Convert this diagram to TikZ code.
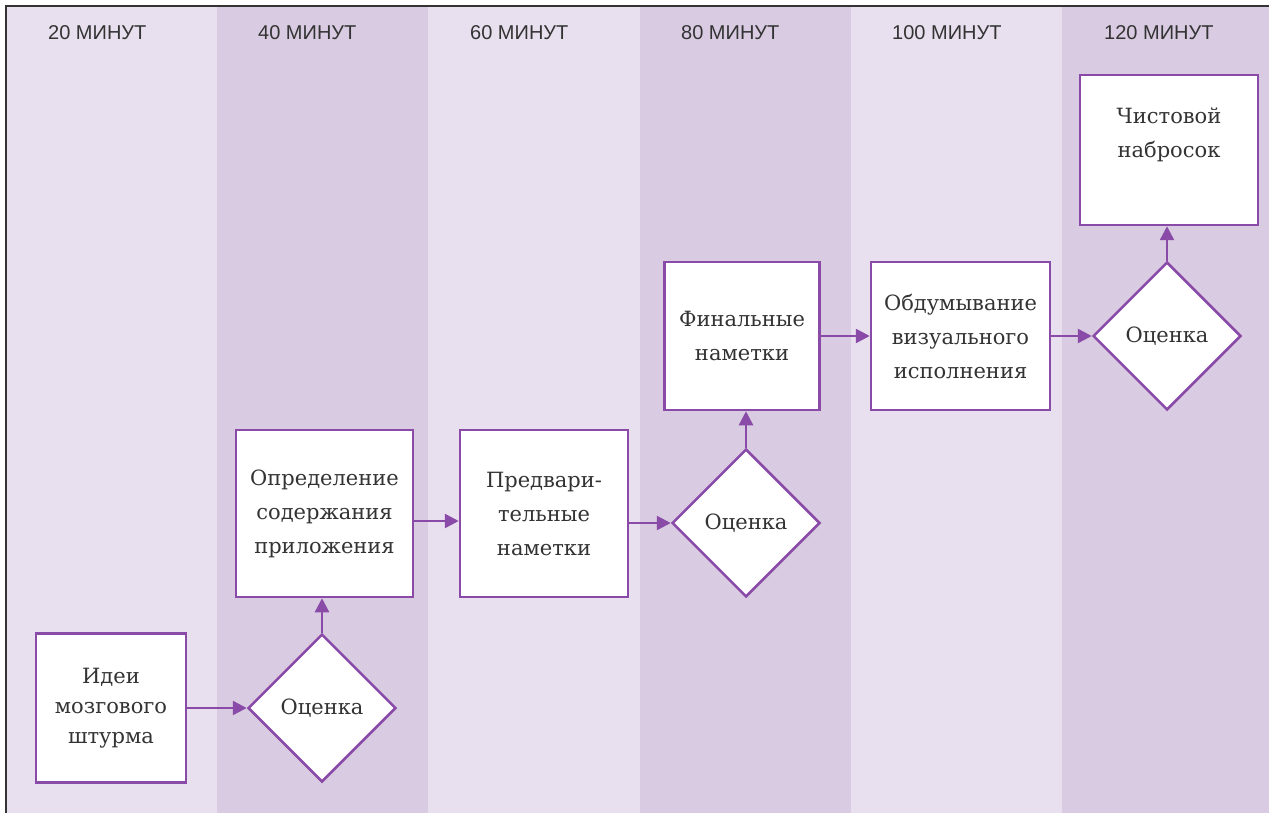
\documentclass[tikz,border=0pt]{standalone}
\usepackage{fontspec}
\setmainfont{DejaVu Serif}
\newfontfamily\hdrfont{Liberation Sans}
\usetikzlibrary{shapes.geometric,arrows.meta,calc}
\definecolor{bglight}{HTML}{E8E0EE}
\definecolor{bgdark}{HTML}{D9CBE2}
\definecolor{vio}{HTML}{8A4BA8}
\definecolor{txt}{HTML}{333333}
\begin{document}
\begin{tikzpicture}[x=1pt,y=-1pt,
  box/.style={draw=vio,line width=2.5pt,fill=white,rectangle,inner sep=0pt,align=center,
    text=txt,font=\fontsize{21}{34}\selectfont},
  dia/.style={draw=vio,line width=2.5pt,fill=white,diamond,inner sep=0pt,minimum size=148pt,
    text=txt,font=\fontsize{21}{34}\selectfont},
  hdr/.style={anchor=west,text=txt,font=\hdrfont\fontsize{20}{22}\selectfont,inner sep=0pt},
  arr/.style={draw=vio,line width=2.5pt,-{Triangle[length=14pt,width=14pt]}}]
\useasboundingbox (0,0) rectangle (1269,813);
\fill[white] (0,0) rectangle (1269,813);
% columns
\fill[bglight] (6,6) rectangle (217,813);
\fill[bgdark] (217,6) rectangle (428,813);
\fill[bglight] (428,6) rectangle (640,813);
\fill[bgdark] (640,6) rectangle (851,813);
\fill[bglight] (851,6) rectangle (1062,813);
\fill[bgdark] (1062,6) rectangle (1269,813);
\draw[line width=2pt,black!80] (6,813) -- (6,6) -- (1269,6);
% headers
\node[hdr] (h1) at (48,33) {20 МИНУТ};
\node[hdr] (h2) at (258,33) {40 МИНУТ};
\node[hdr] (h3) at (470,33) {60 МИНУТ};
\node[hdr] (h4) at (681,33) {80 МИНУТ};
\node[hdr] (h5) at (892,33) {100 МИНУТ};
\node[hdr] (h6) at (1104,33) {120 МИНУТ};
% nodes
\node[box,minimum width=150pt,minimum height=149pt,font=\fontsize{21}{30}\selectfont] (b1) at (111,708) {Идеи\\мозгового\\штурма};
\node[dia] (d1) at (322,708) {Оценка};
\node[box,minimum width=177pt,minimum height=167pt] (b2) at (324.5,513.5) {Определение\\содержания\\приложения};
\node[box,minimum width=168pt,minimum height=167pt] (b3) at (544,513.5) {Предвари-\\тельные\\наметки};
\node[dia] (d2) at (746,523) {Оценка};
\node[box,minimum width=155pt,minimum height=148pt] (b4) at (742,336) {Финальные\\наметки};
\node[box,minimum width=179pt,minimum height=148pt] (b5) at (960.5,336) {Обдумывание\\визуального\\исполнения};
\node[dia] (d3) at (1167,336) {Оценка};
\node[box,minimum width=178pt,minimum height=150pt] (b6) at (1169,150) {Чистовой\\набросок\\\mbox{}};
% connectors
\draw[arr] (b1.east) -- (d1.west);
\draw[arr] (d1.north) -- (d1.north |- b2.south);
\draw[arr] (b2.east |- 0,521) -- (b3.west |- 0,521);
\draw[arr] (b3.east |- d2.west) -- (d2.west);
\draw[arr] (d2.north) -- (d2.north |- b4.south);
\draw[arr] (b4.east) -- (b5.west);
\draw[arr] (b5.east) -- (d3.west);
\draw[arr] (d3.north) -- (d3.north |- b6.south);
\end{tikzpicture}
\end{document}
